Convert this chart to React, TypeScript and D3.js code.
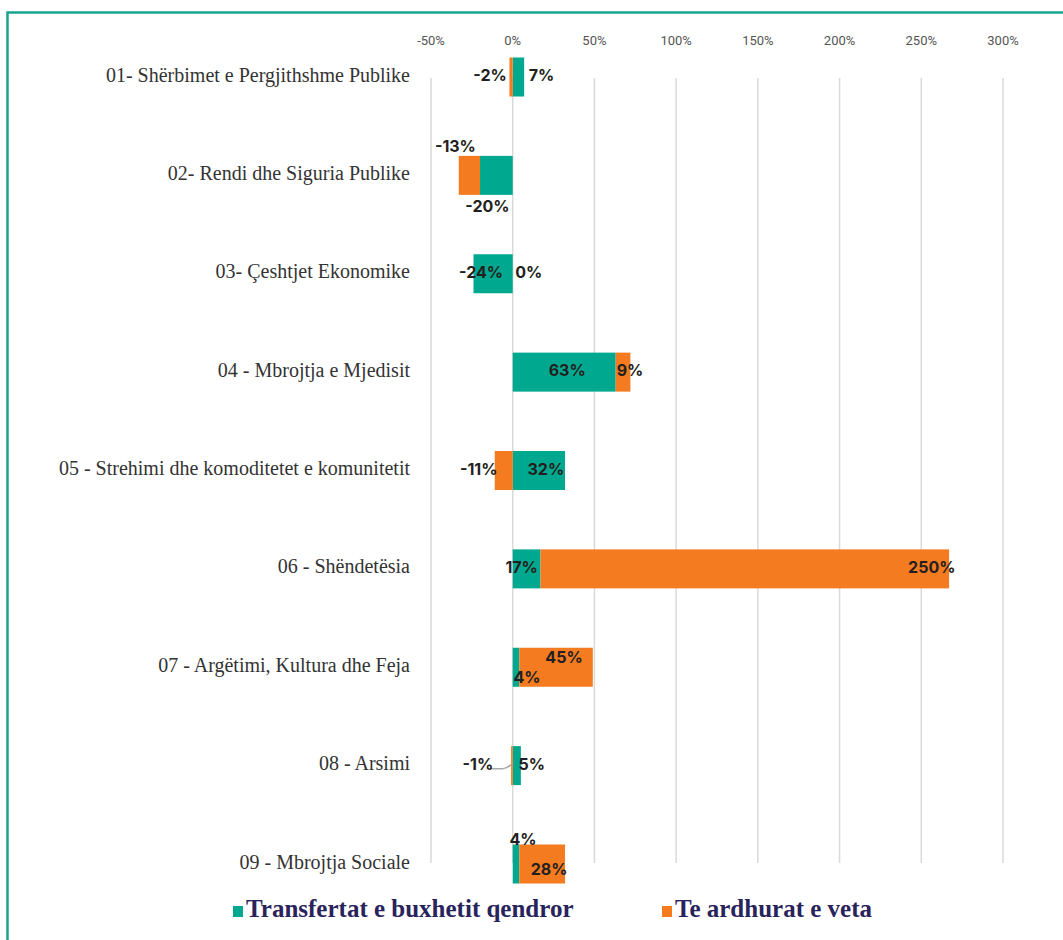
import * as d3 from 'd3'
import { useRef, useEffect } from 'react'

const categories = [
  '01- Shërbimet e Pergjithshme Publike',
  '02- Rendi dhe Siguria Publike',
  '03- Çeshtjet Ekonomike',
  '04 - Mbrojtja e Mjedisit',
  '05 - Strehimi dhe komoditetet e komunitetit',
  '06 - Shëndetësia',
  '07 - Argëtimi, Kultura dhe Feja',
  '08 - Arsimi',
  '09 - Mbrojtja Sociale'
]
const transfertat = [7, -20, -24, 63, 32, 17, 4, 5, 4]
const teArdhurat = [-2, -13, 0, 9, -11, 250, 45, -1, 28]
const tickValues = [-50, 0, 50, 100, 150, 200, 250, 300]
const seriesNames = ['Transfertat e buxhetit qendror', 'Te ardhurat e veta']

// manual label nudges (px from segment centre), like the hand-placed excel labels
const labelNudge = {
  transfertat: [[23, 0], [-9, 32], [-12, 0], [3, 0], [7, 0], [-5, 0], [11, 11], [15, 0], [7, -23]],
  teArdhurat: [[-21, 0], [-14, -28], [16, 0], [7, 0], [-25, 0], [187, 0], [8, -9], [-34, 0], [7, 7]]
}

const TEAL = '#00a88f'
const ORANGE = '#f47b20'

const App = () => {
  const ref = useRef<SVGSVGElement>(null)

  useEffect(() => {
    const svg = d3.select(ref.current)
    svg.selectAll('*').remove()

    const x = d3.scaleLinear().domain([-50, 300]).range([431, 1003])
    const y = d3.scalePoint().domain(categories).range([77, 864])
    const barH = 39

    // frame
    svg
      .append('rect')
      .attr('x', 7.5)
      .attr('y', 12.5)
      .attr('width', 1100)
      .attr('height', 1000)
      .attr('fill', 'none')
      .attr('stroke', '#16a58c')
      .attr('stroke-width', 2.5)

    // grid
    svg
      .append('g')
      .selectAll('line')
      .data(tickValues)
      .enter()
      .append('line')
      .attr('x1', (d) => x(d))
      .attr('x2', (d) => x(d))
      .attr('y1', 78)
      .attr('y2', 863)
      .attr('stroke', '#d9d9d9')
      .attr('stroke-width', 1.5)

    svg
      .append('g')
      .selectAll('text')
      .data(tickValues)
      .enter()
      .append('text')
      .attr('x', (d) => x(d))
      .attr('y', 42)
      .attr('text-anchor', 'middle')
      .attr('dominant-baseline', 'middle')
      .attr('font-family', 'Roboto, sans-serif')
      .attr('font-size', 13)
      .attr('fill', '#555')
      .text((d) => d + '%')

    // category labels
    svg
      .append('g')
      .selectAll('text')
      .data(categories)
      .enter()
      .append('text')
      .attr('x', 410)
      .attr('y', (d) => y(d))
      .attr('text-anchor', 'end')
      .attr('dominant-baseline', 'middle')
      .attr('font-family', '"Liberation Serif", serif')
      .attr('font-size', 20)
      .attr('fill', '#333')
      .text((d) => d)

    const rows = categories.map((c, i) => ({
      cat: c,
      transfertat: transfertat[i],
      teArdhurat: teArdhurat[i]
    }))
    const keys = ['transfertat', 'teArdhurat']
    const color = d3.scaleOrdinal().domain(keys).range([TEAL, ORANGE])
    const stacked = d3.stack().keys(keys).offset(d3.stackOffsetDiverging)(rows)

    svg
      .append('g')
      .selectAll('g')
      .data(stacked)
      .enter()
      .append('g')
      .attr('fill', (d) => color(d.key))
      .selectAll('rect')
      .data((d) => d)
      .enter()
      .append('rect')
      .attr('x', (d) => x(Math.min(d[0], d[1])))
      .attr('y', (d) => y(d.data.cat) - barH / 2)
      .attr('width', (d) => Math.abs(x(d[1]) - x(d[0])))
      .attr('height', barH)

    // leader line for the tiny -1% label
    const y8 = y(categories[7])
    svg
      .append('path')
      .attr('d', `M${x(-1) - 21},${y8 + 3} L${x(-1) - 8},${y8 + 3} Q${x(-1) - 3},${y8 + 2} ${x(-1)},${y8 - 1}`)
      .attr('fill', 'none')
      .attr('stroke', '#aaa')
      .attr('stroke-width', 1.5)

    // data labels
    stacked.forEach((s) => {
      svg
        .append('g')
        .selectAll('text')
        .data(s)
        .enter()
        .append('text')
        .attr('x', (d, i) => x((d[0] + d[1]) / 2) + labelNudge[s.key][i][0])
        .attr('y', (d, i) => y(d.data.cat) + labelNudge[s.key][i][1])
        .attr('text-anchor', 'middle')
        .attr('dominant-baseline', 'middle')
        .attr('font-family', 'Inter, sans-serif')
        .attr('font-weight', 700)
        .attr('font-size', 16)
        .attr('fill', '#231f20')
        .text((d) => d.data[s.key] + '%')
    })

    // legend
    const legend = svg.append('g')
    const legendX = [233, 662]
    seriesNames.forEach((name, i) => {
      legend
        .append('rect')
        .attr('x', legendX[i])
        .attr('y', 906)
        .attr('width', 10)
        .attr('height', 11)
        .attr('fill', color(keys[i]))
      legend
        .append('text')
        .attr('x', legendX[i] + 13)
        .attr('y', 911)
        .attr('dominant-baseline', 'middle')
        .attr('font-family', '"Liberation Serif", serif')
        .attr('font-weight', 700)
        .attr('font-size', 25)
        .attr('fill', '#29235c')
        .text(name)
    })
  }, [])

  return (
    <svg
      ref={ref}
      width={1063}
      height={940}
      style={{ position: 'absolute', left: 0, top: 0, background: '#fff' }}
    ></svg>
  )
}

export default App
